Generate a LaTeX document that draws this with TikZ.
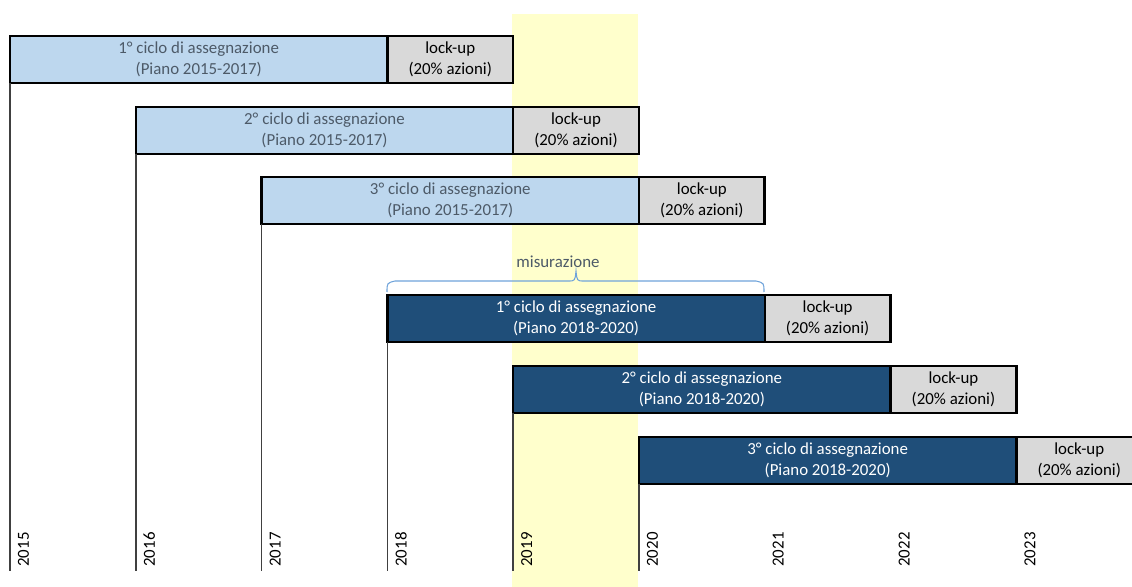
\documentclass[tikz,border=0pt]{standalone}
\usepackage{fontspec}
\setmainfont{Carlito}
\definecolor{oldplan}{HTML}{BDD7EE}
\definecolor{newplan}{HTML}{1F4E79}
\definecolor{lockgray}{HTML}{D9D9D9}
\definecolor{bandyellow}{HTML}{FFFFCC}
\definecolor{softtext}{HTML}{4D5A68}
\definecolor{bracecol}{HTML}{6FA3DA}
\begin{document}
\begin{tikzpicture}[x=0.02cm,y=-0.02cm,font=\fontsize{9.6}{11.9}\selectfont,
  bar/.style={draw=black,line width=1.4pt,minimum height=0.94cm,inner sep=0pt,outer sep=0pt,align=center,anchor=north west},
  oldbar/.style={bar,fill=oldplan,text=softtext,minimum width=7.548cm},
  newbar/.style={bar,fill=newplan,text=white,minimum width=7.548cm},
  lockbox/.style={bar,fill=lockgray,text=black,minimum width=2.516cm},
  yearline/.style={draw=black!75,line width=0.9pt},
  yearlabel/.style={rotate=90,anchor=west,inner sep=0pt}]
\useasboundingbox (0,0) rectangle (1132,587);
\fill[bandyellow] (512,14) rectangle (638,587);
\coordinate (axisend) at (0,571);
% piano 2015-2017
\foreach \n/\i/\y in {1/0/36,2/1/107,3/2/177}{
  \node[oldbar] (p\n) at ({10+125.8*\i},\y) {\n° ciclo di assegnazione\\(Piano 2015-2017)};
  \node[lockbox] (l\n) at (p\n.north east) {lock-up\\(20\% azioni)};
  \draw[yearline] (p\n.south west) -- (p\n.south west |- axisend);
}
% piano 2018-2020
\foreach \n/\i/\y in {1/3/295,2/4/366,3/5/437}{
  \node[newbar] (q\n) at ({10+125.8*\i},\y) {\n° ciclo di assegnazione\\(Piano 2018-2020)};
  \node[lockbox] (m\n) at (q\n.north east) {lock-up\\(20\% azioni)};
  \draw[yearline] (q\n.south west) -- (q\n.south west |- axisend);
}
% graffa misurazione
\draw[bracecol,line width=0.6pt] (387,292) .. controls (387,283) .. (395,281) -- (568,281)
  .. controls (575,281) .. (576,271) .. controls (577,281) .. (584,281) -- (756,281)
  .. controls (764,283) .. (764,292);
\node[text=softtext] (mis) at (558,262) {misurazione};
% anni
\foreach \yr [count=\k from 0] in {2015,...,2023}
  \node[yearlabel] (y\yr) at ({10+125.8*\k+13.5},567) {\yr};
\end{tikzpicture}
\end{document}
